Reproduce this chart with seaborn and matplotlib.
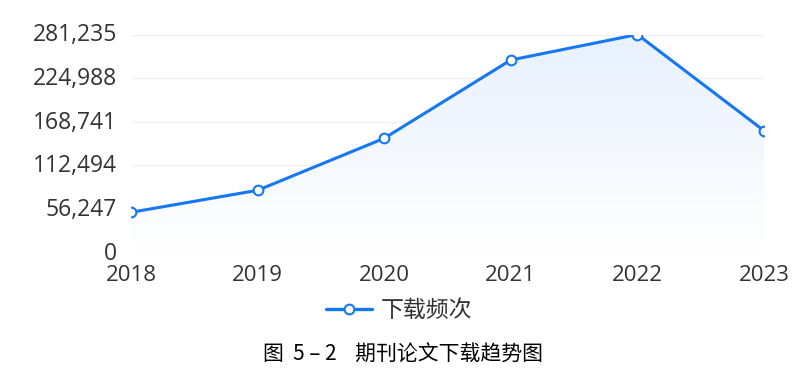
import numpy as np
import pandas as pd
import seaborn as sns
import matplotlib.pyplot as plt
import matplotlib.transforms as mtransforms
from matplotlib.ticker import FuncFormatter
from matplotlib.colors import LinearSegmentedColormap
from matplotlib.lines import Line2D

# data
years = ["2018", "2019", "2020", "2021", "2022", "2023"]
downloads = [51860, 80240, 147330, 248340, 281235, 157130]
ytick_values = [0, 56247, 112494, 168741, 224988, 281235]
series_name = "下载频次"
caption = "图  5 – 2    期刊论文下载趋势图"

line_color = "#1677f2"
text_color = "#333333"

sns.set_theme(style="white")
plt.rcParams['font.family'] = ['Open Sans', 'Noto Sans CJK SC', 'DejaVu Sans']

df = pd.DataFrame({"year": years, "downloads": downloads})
df["x"] = np.arange(len(years))

fig = plt.figure(figsize=(8.06, 3.79), dpi=100)
ax = fig.add_axes([131 / 806, 126.5 / 379, 633 / 806, 218 / 379])

# gradient area under the line
fill = ax.fill_between(df["x"], df["downloads"], 0, color="none", lw=0)
grad = np.linspace(1, 0, 256).reshape(-1, 1)
cmap = LinearSegmentedColormap.from_list("g", ["#ffffff", "#e8f1fe"])
im = ax.imshow(grad, cmap=cmap, aspect="auto", origin="upper",
               extent=[0, len(years) - 1, 0, max(ytick_values)], zorder=1)
im.set_clip_path(fill.get_paths()[0], transform=ax.transData)

sns.lineplot(data=df, x="x", y="downloads", ax=ax, color=line_color, lw=2.2,
             marker="o", markersize=7, markerfacecolor="white",
             markeredgecolor=line_color, markeredgewidth=1.5,
             zorder=3, legend=False)

ax.set_xlim(0, len(years) - 1)
ax.set_ylim(0, max(ytick_values))
ax.set_xticks(df["x"], years)
ax.set_yticks(ytick_values)
ax.yaxis.set_major_formatter(FuncFormatter(lambda v, p: f"{int(v):,}"))
ax.grid(axis="y", color="#f0f0f0", lw=1)
ax.set_axisbelow(True)
for s in ax.spines.values():
    s.set_visible(False)
ax.tick_params(axis="both", length=0, labelsize=16.5, labelcolor=text_color)
ax.tick_params(axis="y", pad=10)
ax.tick_params(axis="x", pad=9, labelsize=16)

# nudge the y labels up a touch so "0" clears "2018"
shift = mtransforms.ScaledTranslation(0, 2 / 100, fig.dpi_scale_trans)
for lab in ax.get_yticklabels():
    lab.set_transform(lab.get_transform() + shift)
ax.set_xlabel("")
ax.set_ylabel("")

h = Line2D([], [], color=line_color, lw=2.4, marker="o", markersize=7,
           markerfacecolor="white", markeredgecolor=line_color, markeredgewidth=1.5)
fig.legend([h], [series_name], loc="center", bbox_to_anchor=(0.495, 0.18),
           frameon=False, handlelength=2.0, handletextpad=0.4,
           labelcolor=text_color, prop={"family": ["Noto Sans CJK SC"], "size": 16.5})

fig.text(0.5, 0.063, caption, ha="center", va="center", fontsize=15,
         color="black", family=["Noto Sans CJK SC"], fontweight="light")

fig.savefig("out.png", dpi=100)
